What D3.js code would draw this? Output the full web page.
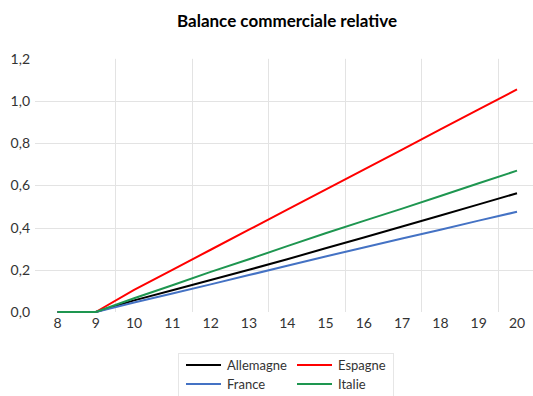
<!DOCTYPE html>
<html><head><meta charset="utf-8">
<script src="https://cdn.jsdelivr.net/npm/d3@7"></script>
<style>
html,body{margin:0;padding:0;background:#fff;}
svg{display:block;font-family:Lato,"Open Sans",sans-serif;}
</style></head>
<body>
<svg id="chart" width="533" height="396"></svg>
<script>
const years = [8,9,10,11,12,13,14,15,16,17,18,19,20];
const yTicks = [0,0.2,0.4,0.6,0.8,1.0,1.2];
const seriesNames = ["Allemagne","Espagne","France","Italie"];
const seriesColors = ["#000000","#ff0000","#4472c4","#1e9650"];
const allemagne = [0,0,0.055,0.103,0.152,0.200,0.250,0.302,0.353,0.405,0.457,0.510,0.563];
const espagne   = [0,0,0.105,0.200,0.295,0.390,0.485,0.580,0.675,0.770,0.865,0.960,1.055];
const france    = [0,0,0.045,0.088,0.131,0.175,0.219,0.263,0.306,0.348,0.390,0.433,0.475];
const italie    = [0,0,0.065,0.127,0.190,0.250,0.312,0.373,0.432,0.490,0.550,0.610,0.670];
const seriesValues = [allemagne, espagne, france, italie];

const svg = d3.select("#chart");
const x = d3.scaleLinear().domain([8,20]).range([57.5,517]);
const y = d3.scaleLinear().domain([0,1.2]).range([312,58.8]);
const fmt = v => d3.format(".1f")(v).replace(".", ",");

// title
svg.append("text").attr("x",287).attr("y",27).attr("text-anchor","middle")
  .attr("font-size",17).attr("font-weight","bold").attr("fill","#000")
  .text("Balance commerciale relative");

// horizontal gridlines
svg.append("g").selectAll("line").data(yTicks.filter(t=>t>0 && t<1.2)).join("line")
  .attr("x1",35).attr("x2",533).attr("y1",d=>Math.round(y(d))+0.5).attr("y2",d=>Math.round(y(d))+0.5)
  .attr("stroke","#e3e3e3").attr("stroke-width",1);
// vertical gridlines between categories
const vGrid = [9.5,11.5,13.5,15.5,17.5,19.5];
svg.append("g").selectAll("line").data(vGrid).join("line")
  .attr("x1",d=>Math.round(x(d))+0.5).attr("x2",d=>Math.round(x(d))+0.5)
  .attr("y1",y(1.2)).attr("y2",y(0))
  .attr("stroke","#e3e3e3").attr("stroke-width",1);

// y labels
svg.append("g").selectAll("text").data(yTicks).join("text")
  .attr("x",30).attr("y",d=>y(d)+5).attr("text-anchor","end")
  .attr("font-size",14).attr("fill","#333").text(fmt);
// x labels
svg.append("g").selectAll("text").data(years).join("text")
  .attr("x",d=>x(d)).attr("y",327.5).attr("text-anchor","middle")
  .attr("font-size",14).attr("fill","#333").text(d=>d);

// lines
const line = d3.line().x((d,i)=>x(years[i])).y(d=>y(d));
svg.append("g").selectAll("path").data(seriesValues).join("path")
  .attr("d",line).attr("fill","none")
  .attr("stroke",(d,i)=>seriesColors[i]).attr("stroke-width",2)
  .attr("stroke-linejoin","round");

// legend
const lg = svg.append("g");
lg.append("rect").attr("x",178.5).attr("y",353.5).attr("width",215).attr("height",45)
  .attr("fill","none").attr("stroke","#e6e6e6");
const legPos = [[186,365],[297,365],[186,384],[297,384]];
seriesNames.forEach((n,i)=>{
  const [lx,ly] = legPos[i];
  lg.append("line").attr("x1",lx).attr("x2",lx+35).attr("y1",ly).attr("y2",ly)
    .attr("stroke",seriesColors[i]).attr("stroke-width",2);
  lg.append("text").attr("x",lx+41).attr("y",ly+4.5).attr("font-size",13)
    .attr("fill","#333").text(n);
});
</script>
</body></html>
